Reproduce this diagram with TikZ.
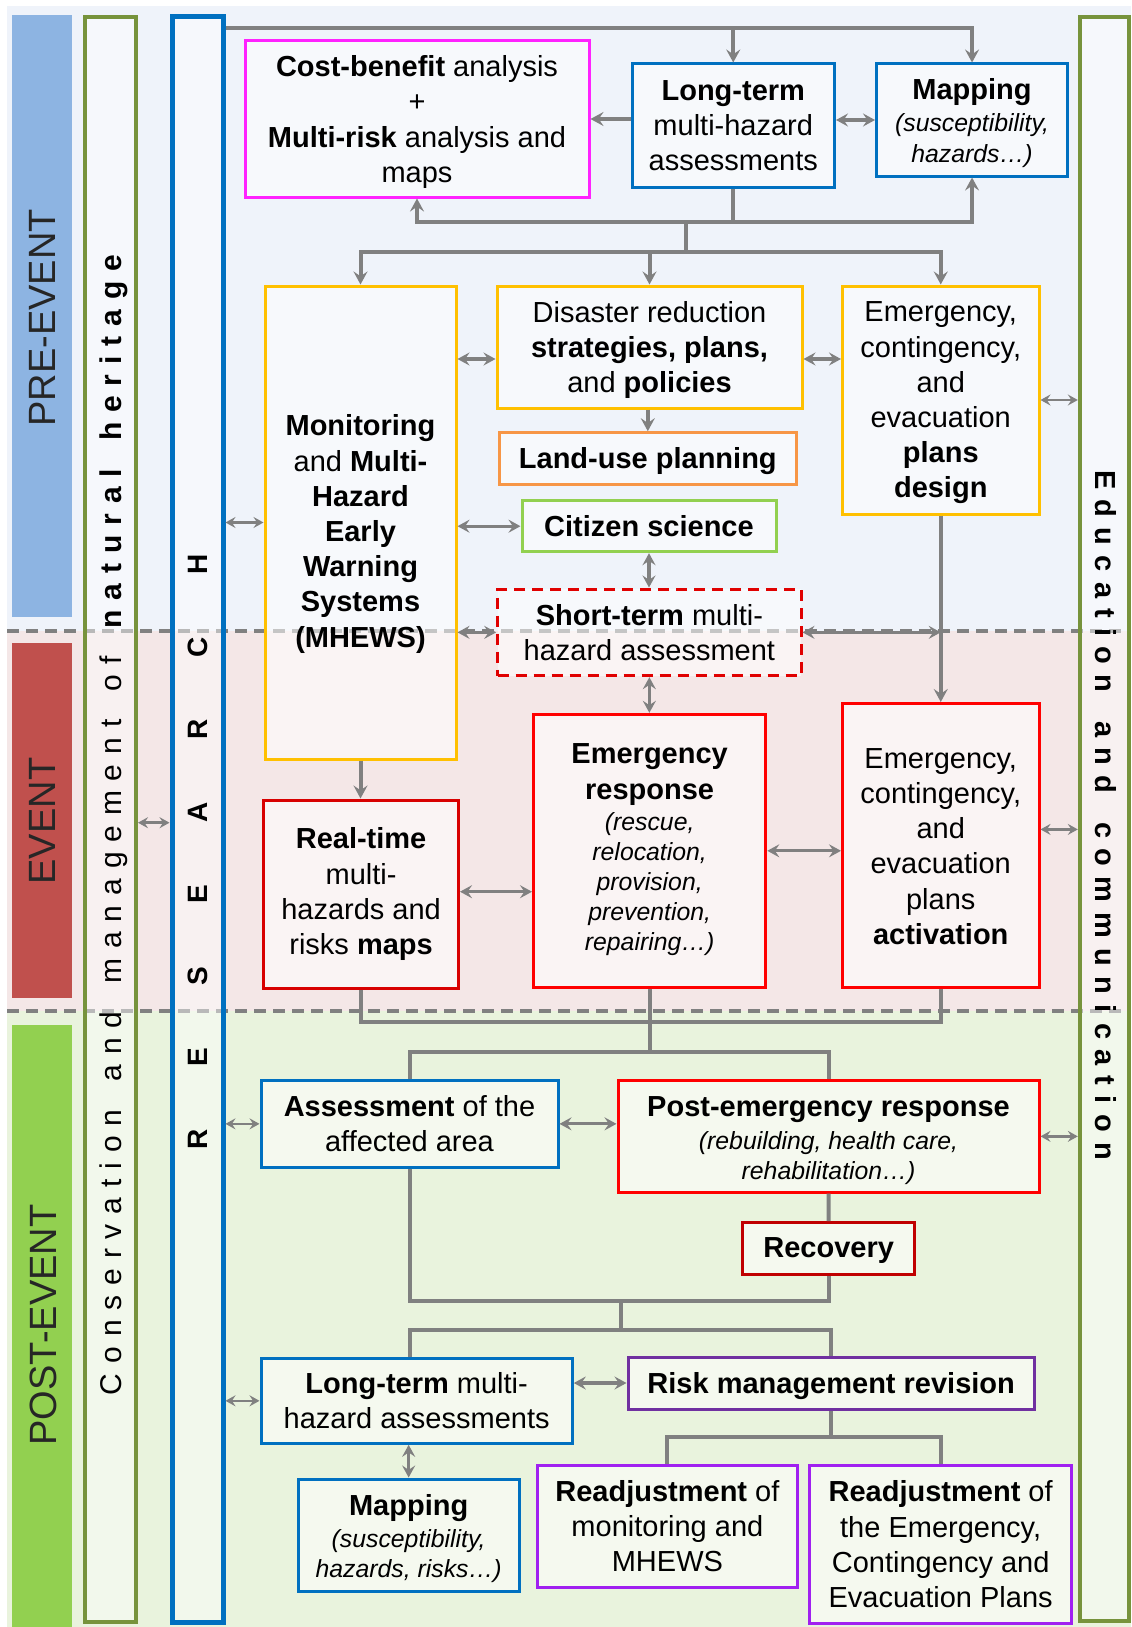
\documentclass[tikz,border=0pt]{standalone}
\usepackage{fontspec}
\setmainfont{Liberation Sans}
\usetikzlibrary{arrows.meta,calc}
\definecolor{bgpre}{HTML}{EFF3FA}
\definecolor{bgev}{HTML}{F4E7E7}
\definecolor{bgpost}{HTML}{E9F3DD}
\definecolor{barpre}{HTML}{8DB4E2}
\definecolor{barev}{HTML}{C0504D}
\definecolor{barpost}{HTML}{92D050}
\definecolor{cgray}{HTML}{808080}
\definecolor{olive}{HTML}{77933C}
\definecolor{cblue}{HTML}{0070C0}
\definecolor{cgold}{HTML}{FFC000}
\definecolor{corange}{HTML}{F79646}
\definecolor{cgreen}{HTML}{92D050}
\definecolor{cred}{HTML}{FF0000}
\definecolor{cdash}{HTML}{E00000}
\definecolor{cdred}{HTML}{D80000}
\definecolor{cdredb}{HTML}{C00000}
\definecolor{cmag}{HTML}{FF22FF}
\definecolor{cpurp}{HTML}{7030A0}
\definecolor{cviol}{HTML}{A020F0}
\definecolor{lbl}{HTML}{262626}
\newcommand\mainfs{\fontsize{14.5}{17.6}\selectfont}
\newcommand\itfs{\fontsize{12.4}{15}\selectfont\itshape}
\makeatletter
\newcommand\sw[1]{\@tfor\@swc:=#1\do{\hfil\@swc}}
\makeatother
% \bbox[dy]{name}{x1}{y1}{x2}{y2}{style}{text}
\newcommand\bbox[8][0]{%
  \node[box,#7,minimum width={(#5-#3)*0.5pt},minimum height={(#6-#4)*0.5pt}] (#2) at ({(#3+#5)/2},{(#4+#6)/2}) {};
  \node[txt] (#2-t) at ({(#3+#5)/2},{(#4+#6)/2+#1}) {#8};}
\begin{document}
\begin{tikzpicture}[x=0.5pt,y=-0.5pt,
  box/.style={draw, line width=1.5pt, fill=white, fill opacity=0.55, inner sep=0pt},
  txt/.style={inner sep=0pt, align=center, font=\mainfs, text=black},
  conn/.style={cgray, line width=2pt},
  arr/.style={-{Stealth[length=6.5pt,width=7pt,inset=2.4pt]}},
  dbl/.style={cgray, line width=1.6pt, {Stealth[length=6pt,width=6.5pt,inset=2.2pt]}-{Stealth[length=6pt,width=6.5pt,inset=2.2pt]}},
  sdbl/.style={cgray, line width=1.3pt, {Stealth[length=5pt,width=5.5pt,inset=1.8pt]}-{Stealth[length=5pt,width=5.5pt,inset=1.8pt]}},
  phase/.style={rotate=90, inner sep=0pt, text=lbl, font=\fontsize{19}{22}\selectfont}
]
\useasboundingbox (0,0) rectangle (1131,1627);
\fill[white] (0,0) rectangle (1131,1627);
\fill[bgpre] (7,6) rectangle (1131,631);
\fill[bgev] (7,631) rectangle (1131,1011);
\fill[bgpost] (7,1011) rectangle (1131,1627);
\draw[cgray, line width=1.6pt, dash pattern=on 6pt off 3.5pt] (7,631) -- (1131,631);
\draw[cgray, line width=1.6pt, dash pattern=on 6pt off 3.5pt] (7,1011) -- (1131,1011);
% phase bars
\fill[barpre] (12,15) rectangle (72,617);
\fill[barev] (12,643) rectangle (72,998);
\fill[barpost] (12,1025) rectangle (72,1627);
\node[phase] (lpre) at (42,318) {PRE-EVENT};
\node[phase] (lev) at (42,821) {EVENT};
\node[phase] (lpost) at (43,1325) {POST-EVENT};
% columns
\node[box, draw=olive, line width=2pt, fill opacity=0.45, minimum width=25.5pt, minimum height=802.5pt] (cons) at (110.5,819.5) {};
\node[box, draw=cblue, line width=2.5pt, fill opacity=0.45, minimum width=25.5pt, minimum height=802.5pt] (res) at (197.5,819.5) {};
\node[box, draw=olive, line width=2.2pt, fill opacity=0.45, minimum width=24.5pt, minimum height=802pt] (edu) at (1104.5,819) {};
\node[rotate=90, anchor=base, inner sep=0pt, font=\fontsize{15}{18}\selectfont] (tcons) at (121,825) {\hbox to 570pt{\hfilneg\sw{Conservation}\hfil\ \sw{and}\hfil\ \sw{management}\hfil\ \sw{of}\hfil\ \bfseries\sw{natural}\hfil\ \sw{heritage}}};
\node[rotate=90, anchor=base, inner sep=0pt, font=\fontsize{14}{17}\selectfont\bfseries] (tres) at (207,851.5) {\hbox to 297.5pt{\hfilneg\sw{RESEARCH}}};
\node[rotate=-90, anchor=base, inner sep=0pt, font=\fontsize{14.5}{17}\selectfont\bfseries] (tedu) at (1095,815) {\hbox to 345pt{\hfilneg\sw{Education}\hfil\ \sw{and}\hfil\ \sw{communication}}};
% boxes
\bbox[3]{cba}{245}{41}{589}{197}{draw=cmag}{\textbf{Cost-benefit} analysis\\ +\\ \textbf{Multi-risk} analysis and\\ maps}
\bbox{lt1}{632}{64}{834.5}{187}{draw=cblue}{\textbf{Long-term}\\ multi-hazard\\ assessments}
\bbox[3]{mapa}{876.5}{64}{1067.6}{176}{draw=cblue}{\textbf{Mapping}\\[-1.4pt] {\itfs (susceptibility,}\\[-2.1pt] {\itfs hazards…)}}
\bbox{mhews}{265}{286}{456}{759}{draw=cgold}{}
\node[txt] (mhewst) at (360.5,534) {\textbf{Monitoring}\\ and \textbf{Multi-}\\ \textbf{Hazard}\\ \textbf{Early}\\ \textbf{Warning}\\ \textbf{Systems}\\ \textbf{(MHEWS)}};
\bbox[3]{drs}{497}{286}{802}{408}{draw=cgold}{Disaster reduction\\ \textbf{strategies, plans,}\\ and \textbf{policies}}
\bbox[3]{land}{499.6}{432.7}{796}{484}{draw=corange}{\textbf{Land-use planning}}
\bbox{cit}{522}{500.7}{776}{551.7}{draw=cgreen}{\textbf{Citizen science}}
\bbox{st}{497.7}{589}{801}{675.7}{draw=cdash, dash pattern=on 5.5pt off 3.5pt}{\textbf{Short-term} multi-\\ hazard assessment}
\bbox[3]{ecd}{842.5}{286}{1039}{514}{draw=cgold}{Emergency,\\ contingency,\\ and\\ evacuation\\ \textbf{plans}\\ \textbf{design}}
\bbox[1]{eca}{842.5}{703.5}{1039}{987.4}{draw=cred}{Emergency,\\ contingency,\\ and\\ evacuation\\ plans\\ \textbf{activation}}
\bbox[-1]{er}{533.5}{714.3}{765.8}{987.3}{draw=cred}{\textbf{Emergency}\\ \textbf{response}\\[-1.8pt] {\itfs (rescue,}\\[-2.6pt] {\itfs relocation,}\\[-2.6pt] {\itfs provision,}\\[-2.6pt] {\itfs prevention,}\\[-2.6pt] {\itfs repairing…)}}
\bbox{rt}{263.7}{800}{458.5}{988.3}{draw=cdred}{\textbf{Real-time}\\ multi-\\ hazards and\\ risks \textbf{maps}}
\bbox{aa}{261}{1080.7}{558}{1167}{draw=cblue}{\textbf{Assessment} of the\\ affected area}
\bbox[4]{pe}{618}{1080.7}{1039}{1192}{draw=cred}{\textbf{Post-emergency response}\\[-1.1pt] {\itfs (rebuilding, health care,}\\[-2.6pt] {\itfs rehabilitation…)}}
\bbox[2]{rec}{742.5}{1222.7}{914.8}{1274}{draw=cdredb}{\textbf{Recovery}}
\bbox[3]{rmr}{628}{1357}{1034.4}{1409}{draw=cpurp}{\textbf{Risk management revision}}
\bbox{ltb}{261}{1358.3}{572.3}{1443.3}{draw=cblue}{\textbf{Long-term} multi-\\ hazard assessments}
\bbox[3]{mapb}{298.3}{1479}{519}{1591.7}{draw=cblue}{\textbf{Mapping}\\[-1.5pt] {\itfs (susceptibility,}\\[-2.55pt] {\itfs hazards, risks…)}}
\bbox{raa}{537}{1465.7}{797.8}{1587}{draw=cviol}{\textbf{Readjustment} of\\ monitoring and\\ MHEWS}
\bbox{rab}{809.9}{1465.7}{1071.4}{1623}{draw=cviol}{\textbf{Readjustment} of\\ the Emergency,\\ Contingency and\\ Evacuation Plans}
% connectors
\coordinate (ytop) at (0,28);
\draw[conn,arr] (res.east |- ytop) -| (mapa.north);
\draw[conn,arr] (lt1.north |- ytop) -- (lt1.north);
\draw[conn,arr] (lt1.west |- cba.east) -- (cba.east);
\draw[dbl] (lt1.east |- mapa.west) -- (mapa.west);
\coordinate (ya) at (0,222);
\coordinate (ja) at (686,222);
\draw[conn] (lt1.south) -- (lt1.south |- ya);
\draw[conn,arr] (lt1.south |- ya) -| (mapa.south);
\draw[conn,arr] (lt1.south |- ya) -| (cba.south);
\coordinate (yb) at (0,252);
\draw[conn] (ja) -- (ja |- yb);
\draw[conn,arr] (ja |- yb) -| (mhews.north);
\draw[conn,arr] (ja |- yb) -| (ecd.north);
\draw[conn,arr] (drs.north |- yb) -- (drs.north);
\coordinate (yc) at (0,359);
\draw[dbl] (mhews.east |- yc) -- (drs.west |- yc);
\draw[dbl] (drs.east |- yc) -- (ecd.west |- yc);
\draw[sdbl] (ecd.east) -- (edu.west |- ecd.east);
\draw[conn,arr] (land.north |- drs.south) -- (land.north);
\draw[dbl] (mhews.east |- cit.west) -- (cit.west);
\draw[sdbl] (res.east |- mhews.west) -- (mhews.west);
\draw[dbl] (cit.south) -- (cit.south |- st.north);
\draw[dbl] (mhews.east |- st.west) -- (st.west);
\draw[dbl] (st.east) -- (ecd.south |- st.east);
\draw[conn,arr] (ecd.south) -- (eca.north);
\draw[dbl] (st.south) -- (st.south |- er.north);
\draw[dbl] (er.east) -- (eca.west |- er.east);
\coordinate (yd) at (0,829.4);
\draw[sdbl] (eca.east |- yd) -- (edu.west |- yd);
\draw[conn,arr] (mhews.south) -- (mhews.south |- rt.north);
\coordinate (ye) at (0,891.7);
\draw[dbl] (rt.east |- ye) -- (er.west |- ye);
\coordinate (yf) at (0,822.7);
\draw[sdbl] (cons.east |- yf) -- (res.west |- yf);
\coordinate (yg) at (0,1022);
\draw[conn] (rt.south) -- (rt.south |- yg) -- (eca.south |- yg) -- (eca.south);
\coordinate (yh) at (0,1052.3);
\draw[conn] (er.south) -- (er.south |- yh);
\draw[conn] (aa.north) -- (aa.north |- yh) -- (pe.north |- yh) -- (pe.north);
\draw[dbl] (aa.east) -- (pe.west |- aa.east);
\draw[sdbl] (res.east |- aa.west) -- (aa.west);
\draw[sdbl] (pe.east) -- (edu.west |- pe.east);
\draw[conn] (pe.south) -- (rec.north);
\coordinate (yi) at (0,1301);
\draw[conn] (aa.south) -- (aa.south |- yi) -- (rec.south |- yi) -- (rec.south);
\coordinate (ji) at (621,1301);
\coordinate (yj) at (0,1330);
\draw[conn] (ji) -- (ji |- yj);
\draw[conn] (aa.south |- ltb.north) -- (aa.south |- yj) -- (rmr.north |- yj) -- (rmr.north);
\draw[sdbl] (res.east |- ltb.west) -- (ltb.west);
\draw[dbl] (ltb.east |- rmr.west) -- (rmr.west);
\draw[dbl] (mapb.north |- ltb.south) -- (mapb.north);
\coordinate (yk) at (0,1436.7);
\draw[conn] (rmr.south) -- (rmr.south |- yk);
\draw[conn] (raa.north) -- (raa.north |- yk) -- (rab.north |- yk) -- (rab.north);
\end{tikzpicture}
\end{document}
